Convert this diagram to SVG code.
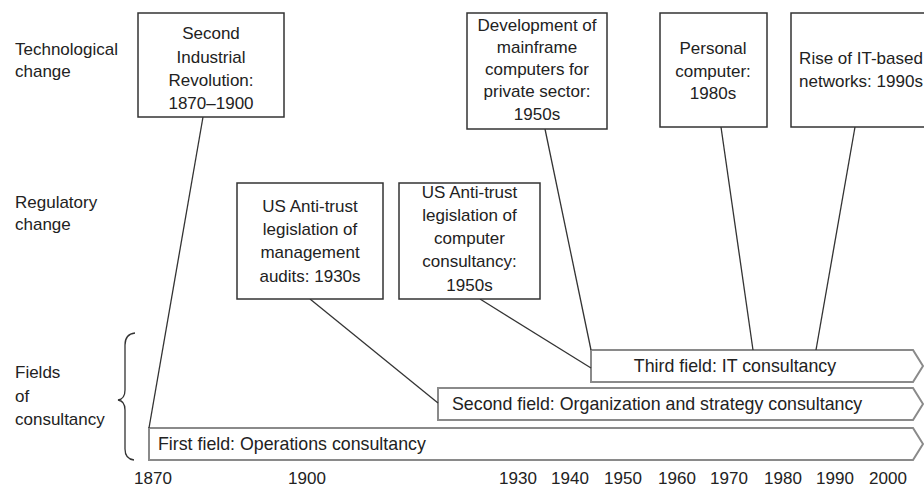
<svg xmlns="http://www.w3.org/2000/svg" width="924" height="489" viewBox="0 0 924 489">
<style>
text { font-family: "Liberation Sans", Arial, sans-serif; font-size: 17px; fill: #222; }
.c { text-anchor: middle; }
.box { fill: #fff; stroke: #333; stroke-width: 1.5; }
.bar { fill: #fff; stroke: #8a8a8a; stroke-width: 2; }
.bt { font-size: 17.8px; }
.conn { stroke: #333; stroke-width: 1.3; fill: none; }
</style>
<rect width="924" height="489" fill="#fff"/>

<g id="row-labels">
  <text x="15" y="55">Technological</text>
  <text x="15" y="77">change</text>
  <text x="15" y="208">Regulatory</text>
  <text x="15" y="230">change</text>
  <text x="15" y="378">Fields</text>
  <text x="15" y="402">of</text>
  <text x="15" y="425">consultancy</text>
  <path d="M135,333 Q125,334 125,345 L125,390 Q125,399 118,400 Q125,401 125,410 L125,449 Q125,459 134,460" fill="none" stroke="#333" stroke-width="1.3"/>
</g>

<g id="bar-first">
  <path class="bar" d="M149,428 L913,428 L923,444 L913,460 L149,460 Z"/>
  <text class="bt" x="158" y="450">First field: Operations consultancy</text>
</g>
<g id="bar-second">
  <path class="bar" d="M438,388 L913,388 L923,404 L913,420 L438,420 Z"/>
  <text class="bt" x="452" y="410">Second field: Organization and strategy consultancy</text>
</g>
<g id="bar-third">
  <path class="bar" d="M591,350 L913,350 L923,366 L913,382 L591,382 Z"/>
  <text class="bt c" x="735" y="372">Third field: IT consultancy</text>
</g>

<g id="connectors">
  <line class="conn" x1="203" y1="117" x2="149" y2="428"/>
  <line class="conn" x1="310" y1="299" x2="438" y2="403"/>
  <line class="conn" x1="480" y1="299" x2="591" y2="368"/>
  <line class="conn" x1="545" y1="129" x2="591" y2="350"/>
  <line class="conn" x1="721" y1="127" x2="753" y2="350"/>
  <line class="conn" x1="855" y1="127" x2="816" y2="350"/>
</g>

<g id="node-second-industrial">
  <rect class="box" x="138" y="13" width="146" height="104"/>
  <text class="c" x="211" y="39">Second</text>
  <text class="c" x="211" y="63">Industrial</text>
  <text class="c" x="211" y="86">Revolution:</text>
  <text class="c" x="211" y="109">1870–1900</text>
</g>

<g id="node-mainframe">
  <rect class="box" x="467" y="13" width="140" height="116"/>
  <text class="c" x="537" y="31">Development of</text>
  <text class="c" x="537" y="53">mainframe</text>
  <text class="c" x="537" y="75">computers for</text>
  <text class="c" x="537" y="97">private sector:</text>
  <text class="c" x="537" y="120">1950s</text>
</g>

<g id="node-personal">
  <rect class="box" x="660" y="13" width="107" height="114"/>
  <text class="c" x="713" y="54">Personal</text>
  <text class="c" x="713" y="77">computer:</text>
  <text class="c" x="713" y="99">1980s</text>
</g>

<g id="node-networks">
  <rect class="box" x="791" y="13" width="140" height="114"/>
  <text class="c" x="861" y="64">Rise of IT-based</text>
  <text class="c" x="861" y="87">networks: 1990s</text>
</g>

<g id="node-mgmt-audits">
  <rect class="box" x="237" y="183" width="146" height="116"/>
  <text class="c" x="310" y="212">US Anti-trust</text>
  <text class="c" x="310" y="235">legislation of</text>
  <text class="c" x="310" y="258">management</text>
  <text class="c" x="310" y="282">audits: 1930s</text>
</g>

<g id="node-computer-consultancy">
  <rect class="box" x="399" y="183" width="141" height="116"/>
  <text class="c" x="469.5" y="198">US Anti-trust</text>
  <text class="c" x="469.5" y="221">legislation of</text>
  <text class="c" x="469.5" y="244">computer</text>
  <text class="c" x="469.5" y="267">consultancy:</text>
  <text class="c" x="469.5" y="291">1950s</text>
</g>

<g id="axis-years">
  <text class="c" x="153" y="484">1870</text>
  <text class="c" x="307" y="484">1900</text>
  <text class="c" x="518" y="484">1930</text>
  <text class="c" x="570" y="484">1940</text>
  <text class="c" x="623" y="484">1950</text>
  <text class="c" x="677" y="484">1960</text>
  <text class="c" x="729" y="484">1970</text>
  <text class="c" x="783" y="484">1980</text>
  <text class="c" x="835" y="484">1990</text>
  <text class="c" x="888" y="484">2000</text>
</g>
</svg>
